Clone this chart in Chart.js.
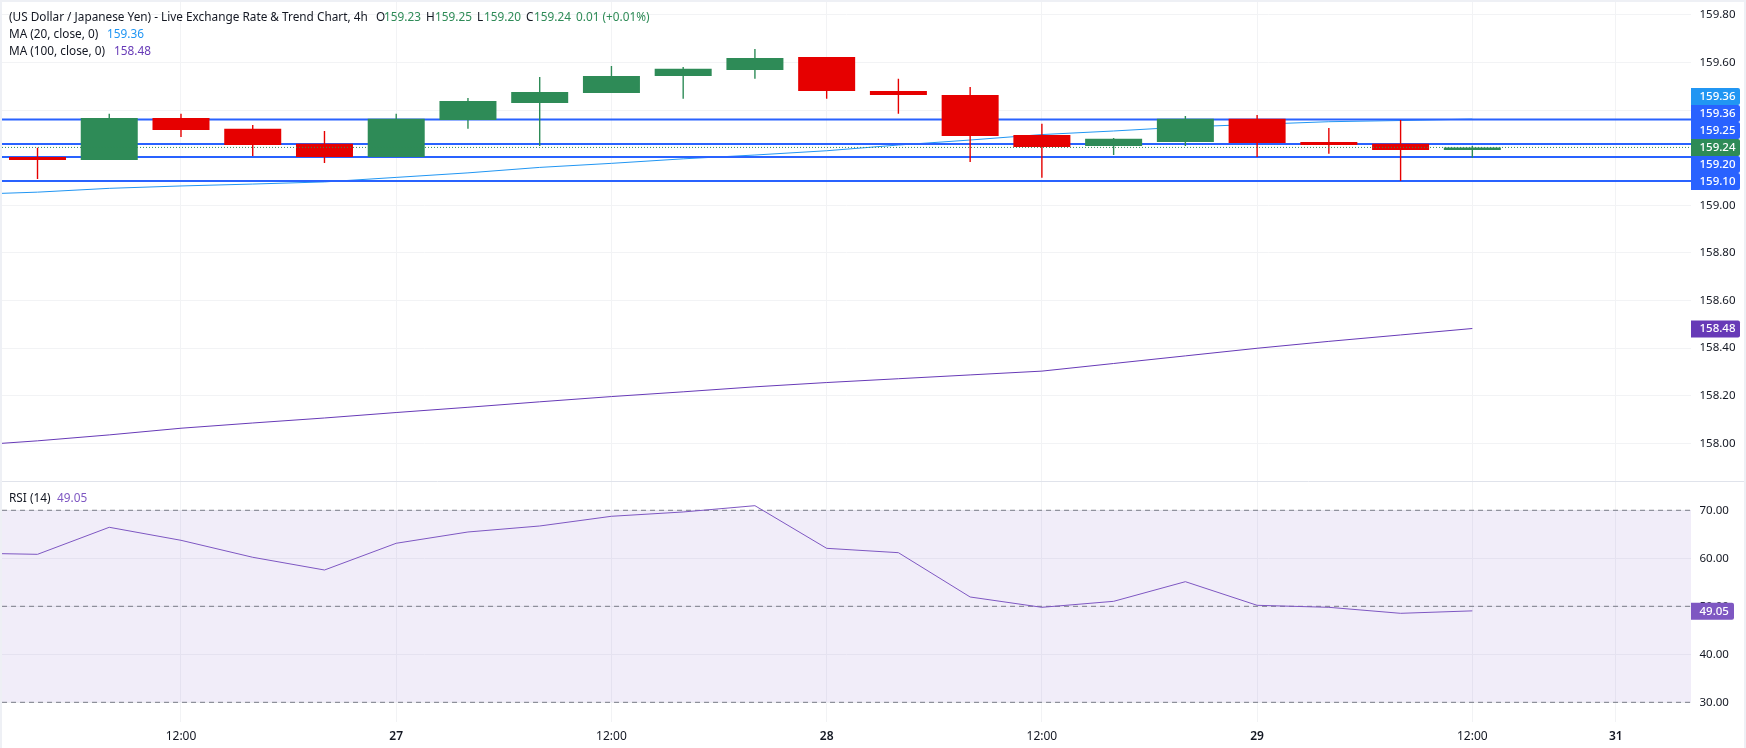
<!DOCTYPE html>
<html>
<head>
<meta charset="utf-8">
<script src="https://cdn.jsdelivr.net/npm/chart.js@4/dist/chart.umd.min.js"></script>
<style>
html,body{margin:0;padding:0;width:1746px;height:748px;overflow:hidden;background:#eef0f5}
#sheet{position:absolute;left:2px;top:2px;width:1742px;height:746px;background:#fff}
canvas{position:absolute;left:0;top:0}
.t{position:absolute;font:11.8px "Noto Sans",sans-serif;color:#131722;white-space:pre;line-height:16px;transform:translateY(-50%)}
</style>
</head>
<body>
<div id="sheet"></div>
<canvas id="c" width="1746" height="748"></canvas>
<div class="t" style="left:9px;top:16px">(US Dollar / Japanese Yen) - Live Exchange Rate &amp; Trend Chart, 4h</div>
<div class="t" style="left:376px;top:16px">O</div><div class="t" style="left:384px;top:16px;color:#2e8b57">159.23</div>
<div class="t" style="left:426px;top:16px">H</div><div class="t" style="left:435px;top:16px;color:#2e8b57">159.25</div>
<div class="t" style="left:477px;top:16px">L</div><div class="t" style="left:484px;top:16px;color:#2e8b57">159.20</div>
<div class="t" style="left:526px;top:16px">C</div><div class="t" style="left:534px;top:16px;color:#2e8b57">159.24</div>
<div class="t" style="left:576px;top:16px;color:#2e8b57">0.01 (+0.01%)</div>
<div class="t" style="left:9px;top:33px">MA (20, close, 0)</div><div class="t" style="left:107px;top:33px;color:#2196f3">159.36</div>
<div class="t" style="left:9px;top:50px">MA (100, close, 0)</div><div class="t" style="left:114px;top:50px;color:#673ab7">158.48</div>
<div class="t" style="left:9px;top:497px">RSI (14)</div><div class="t" style="left:57px;top:497px;color:#7e57c2">49.05</div>
<script>
// --- values ---
const candleSlots = [0,1,2,3,4,5,6,7,8,9,10,11,12,13,14,15,16,17,18,19,20];
const lineSlots = [-1,0,1,2,3,4,5,6,7,8,9,10,11,12,13,14,15,16,17,18,19,20];
const openPrices  = [159.203,159.190,159.367,159.321,159.258,159.203,159.358,159.430,159.472,159.543,159.568,159.623,159.480,159.463,159.295,159.249,159.266,159.363,159.266,159.258,159.232];
const highPrices  = [159.242,159.384,159.384,159.337,159.312,159.384,159.451,159.539,159.585,159.581,159.657,159.623,159.531,159.497,159.342,159.283,159.375,159.379,159.325,159.358,159.250];
const lowPrices   = [159.110,159.190,159.287,159.207,159.178,159.203,159.321,159.249,159.472,159.447,159.531,159.447,159.384,159.182,159.115,159.211,159.249,159.203,159.216,159.102,159.200];
const closePrices = [159.190,159.367,159.316,159.253,159.203,159.363,159.438,159.476,159.543,159.573,159.619,159.480,159.463,159.291,159.245,159.279,159.363,159.262,159.253,159.232,159.243];
const ma20 = [159.045,159.055,159.071,159.081,159.089,159.098,159.117,159.136,159.159,159.176,159.195,159.211,159.229,159.253,159.274,159.297,159.312,159.329,159.340,159.351,159.356,159.362];
const ma100 = [157.989,158.010,158.035,158.063,158.085,158.106,158.129,158.151,158.174,158.196,158.216,158.237,158.255,158.271,158.287,158.303,158.335,158.367,158.399,158.428,158.455,158.482];
const rsi = [61.10,60.83,66.46,63.75,60.21,57.56,63.13,65.48,66.73,68.75,69.65,70.96,62.08,61.17,51.94,49.79,51.04,55.13,50.21,49.79,48.54,49.05];
const levelLines = [159.36,159.257,159.203,159.102];
const lastClose = 159.243;
const rsiGuides = [70,50,30];
const priceTicks = [158,158.2,158.4,158.6,158.8,159,159.2,159.4,159.6,159.8];
const rsiTicks = [30,40,50,60,70];
const timeTickSlots = [2,5,8,11,14,17,20,22];
const timeTickLabels = ['12:00','27','12:00','28','12:00','29','12:00','31'];
const dayLabels = ['27','28','29','31'];
const stackedTagTexts = ['159.36','159.36','159.25','159.24','159.20','159.10'];
const stackedTagColors = ['#2196f3','#2962ff','#2962ff','#2e8b57','#2962ff','#2962ff'];

// --- colours / styles ---
const UP='#2e8b57', DOWN='#e60000', FONT='"Noto Sans",sans-serif';
const gridColor='#f2f3f5';
const span=[-2,24];
const flat=(v)=>span.map(x=>({x,y:v}));

const wickSet={type:'bar',label:'wicks',xAxisID:'x',yAxisID:'price',order:3,grouped:false,barThickness:1.4,inflateAmount:0,
  data:candleSlots.map((x,i)=>({x,y:[lowPrices[i],highPrices[i]]})),
  backgroundColor:candleSlots.map((_,i)=>closePrices[i]>=openPrices[i]?UP:DOWN)};
const bodySet={type:'bar',label:'bodies',xAxisID:'x',yAxisID:'price',order:2,grouped:false,barThickness:57,inflateAmount:0,
  data:candleSlots.map((x,i)=>({x,y:[openPrices[i],closePrices[i]]})),
  backgroundColor:candleSlots.map((_,i)=>closePrices[i]>=openPrices[i]?UP:DOWN)};
const lineSet=(label,xs,ys,color,axis,order,width)=>({type:'line',label,xAxisID:'x',yAxisID:axis,order,
  data:xs.map((x,i)=>({x,y:ys[i]})),borderColor:color,borderWidth:width,pointRadius:0,tension:0,fill:false});

const datasets=[
  {type:'line',label:'rsiBand',xAxisID:'x',yAxisID:'rsi',order:9,data:flat(70),borderWidth:0,pointRadius:0,
   fill:{target:{value:30}},backgroundColor:'rgba(126,87,194,0.105)'},
  ...rsiGuides.map(v=>({type:'line',label:'guide'+v,xAxisID:'x',yAxisID:'rsi',order:8,data:flat(v),
     borderColor:'#787b86',borderWidth:1,borderDash:[5,4],pointRadius:0,fill:false})),
  lineSet('RSI',lineSlots,rsi,'#7e57c2','rsi',7,1),
  lineSet('MA100',lineSlots,ma100,'#673ab7','price',6,1),
  lineSet('MA20',lineSlots,ma20,'#2196f3','price',5,1),
  ...levelLines.map(v=>({type:'line',label:'level'+v,xAxisID:'x',yAxisID:'price',order:4,data:flat(v),
     borderColor:'#2962ff',borderWidth:2,pointRadius:0,fill:false})),
  wickSet,bodySet,
  {type:'line',label:'last',xAxisID:'x',yAxisID:'price',order:1,data:flat(lastClose),
   borderColor:UP,borderWidth:1,borderDash:[1,2],pointRadius:0,fill:false}
];

function tag(ctx,x,top,w,h,fill,text){
  ctx.fillStyle=fill;
  ctx.beginPath();ctx.roundRect(x,top,w,h,[0,2,2,0]);ctx.fill();
  ctx.fillStyle='#fff';ctx.font='500 11.5px '+FONT;
  ctx.textAlign='left';ctx.textBaseline='middle';
  ctx.fillText(text,x+8.5,top+h/2);
}
const overlay={id:'overlay',afterDraw(chart){
  const ctx=chart.ctx,p=chart.scales.price,r=chart.scales.rsi;
  ctx.save();
  ctx.strokeStyle='#e0e3eb';ctx.lineWidth=1;
  ctx.beginPath();ctx.moveTo(2,Math.round(r.top)+.5);ctx.lineTo(1744,Math.round(r.top)+.5);ctx.stroke();
  stackedTagTexts.forEach((t,i)=>tag(ctx,p.left,88+i*17,49,17,stackedTagColors[i],t));
  tag(ctx,p.left,p.getPixelForValue(ma100[ma100.length-1])-8,49,17,'#673ab7','158.48');
  tag(ctx,r.left,r.getPixelForValue(rsi[rsi.length-1])-8,43,17,'#7e57c2','49.05');
  ctx.restore();
}};

const yAxis=(min,max,weight,ticksList)=>({
  type:'linear',axis:'y',position:'right',stack:'panes',stackWeight:weight,offset:false,min,max,
  border:{display:false},
  grid:{color:gridColor,drawTicks:false,lineWidth:1},
  ticks:{color:'#131722',padding:8.5,font:{family:FONT,size:11.5},callback:v=>Number(v).toFixed(2),autoSkip:false},
  afterBuildTicks:s=>{s.ticks=ticksList.map(value=>({value}));},
  afterFit:s=>{s.width=55;s.paddingTop=0;s.paddingBottom=0;}
});

new Chart(document.getElementById('c'),{
  type:'bar',
  data:{datasets},
  options:{
    responsive:false,animation:false,devicePixelRatio:1,
    layout:{padding:{left:2,top:2,right:0,bottom:0}},
    plugins:{legend:{display:false},tooltip:{enabled:false},title:{display:false}},
    scales:{
      x:{type:'linear',position:'bottom',offset:false,min:-0.495,max:23.048,
        border:{display:false},
        grid:{color:gridColor,offset:false,drawTicks:false},
        ticks:{color:'#131722',padding:7,autoSkip:false,maxRotation:0,
          font:c=>({family:FONT,size:12,weight:dayLabels.includes(timeTickLabels[timeTickSlots.indexOf(c.tick&&c.tick.value)])?'600':'400'}),
          callback:v=>timeTickLabels[timeTickSlots.indexOf(v)]},
        afterBuildTicks:s=>{s.ticks=timeTickSlots.map(value=>({value}));},
        afterFit:s=>{s.height=26;s.paddingLeft=0;s.paddingRight=0;}},
      price:yAxis(157.84,159.854,479.3,priceTicks),
      rsi:yAxis(25.9,76.04,240.7,rsiTicks)
    }
  },
  plugins:[overlay]
});
</script>
</body>
</html>
